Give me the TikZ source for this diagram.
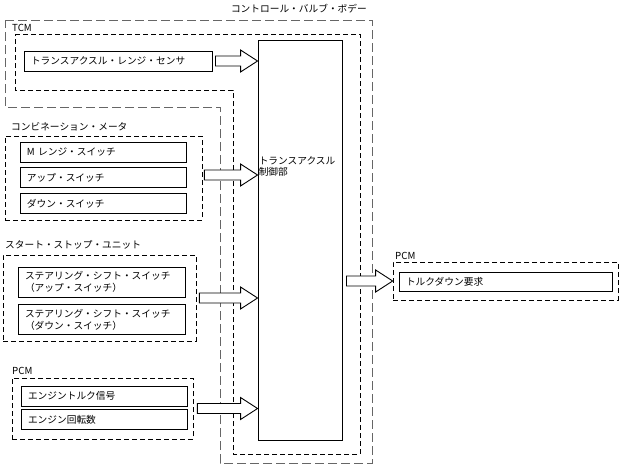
\documentclass[tikz,border=0pt]{standalone}
\usepackage{fontspec}
\setmainfont{Noto Sans CJK JP}
\usetikzlibrary{calc}
\usetikzlibrary{positioning}

\tikzset{
  sigbox/.style = {draw, line width=0.9pt, minimum height=20pt, inner xsep=7pt, inner ysep=1pt, align=left},
  grpbox/.style = {draw, dash pattern=on 5pt off 3pt, line width=0.7pt, inner sep=0pt},
  grplabel/.style = {anchor=west, inner sep=1pt},
  valvebody/.style = {draw=black!60, dash pattern=on 9pt off 4pt, line width=0.9pt},
  tcmline/.style = {draw, dash pattern=on 5pt off 3pt, line width=0.7pt},
  blockarr/.style = {draw, fill=white, line width=0.9pt, line join=miter},
}

\newcommand{\blockarrow}[2]{%
  \draw[blockarr] let \p1=(#1), \p2=(#2) in
    (\x1,\y1+5pt) -- (\x2-17pt,\y1+5pt) -- (\x2-17pt,\y1+11pt) -- (\x2,\y1)
    -- (\x2-17pt,\y1-11pt) -- (\x2-17pt,\y1-5pt) -- (\x1,\y1-5pt) -- cycle;}

\begin{document}
\begin{tikzpicture}[x=1pt, y=-1pt, font=\fontsize{9.7pt}{11.5pt}\selectfont]
        \useasboundingbox (0,0) rectangle (622,466);

        % housings
        \draw[valvebody] (5,20) -- (372,20) -- (372,463) -- (220,463) -- (220,107) -- (5,107) -- cycle;
        \draw[tcmline] (15,34) -- (360,34) -- (360,454) -- (233,454) -- (233,90) -- (15,90) -- cycle;
        \node[grplabel, anchor=east] (vbtext) at (368,9) {コントロール・バルブ・ボデー};
        \node[grplabel] (tcmtext) at (11,28) {TCM};

        % control unit
        \node[draw, line width=0.9pt, minimum width=84pt, minimum height=400pt] (cu) at (300,240) {};
        \node[grplabel, align=left] (cutext) at ($(cu.north west)+(0,127)$) {トランスアクスル\\制御部};
        \node[sigbox, text width=174pt] (sensor) at (118,61) {トランスアクスル・レンジ・センサ};

        % combination meter
        \node[grpbox, minimum width=197pt, minimum height=84pt] (meter) at (103.5,178) {};
        \node[grplabel] (metertext) at (10,127) {コンビネーション・メータ};
        \node[sigbox, text width=152pt] (mrange) at (103,152) {M レンジ・スイッチ};
        \node[sigbox, text width=152pt, below=5pt of mrange] (upsw) {アップ・スイッチ};
        \node[sigbox, text width=152pt, below=5pt of upsw] (downsw) {ダウン・スイッチ};

        % start-stop unit
        \node[grpbox, minimum width=193pt, minimum height=86pt] (ssu) at (99.5,298) {};
        \node[grplabel] (ssutext) at (4,245) {スタート・ストップ・ユニット};
        \node[sigbox, text width=153pt, minimum height=30pt] (upshift) at (101.5,282) {ステアリング・シフト・スイッチ\\（アップ・スイッチ）};
        \node[sigbox, text width=153pt, minimum height=30pt, below=7pt of upshift] (downshift) {ステアリング・シフト・スイッチ\\（ダウン・スイッチ）};

        % engine side PCM
        \node[grpbox, minimum width=181pt, minimum height=61pt] (pcmin) at (102.5,408.5) {};
        \node[grplabel] (pcmintext) at (11,371) {PCM};
        \node[sigbox, text width=152pt] (torque) at (104,396) {エンジントルク信号};
        \node[sigbox, text width=152pt, below=3pt of torque] (speed) {エンジン回転数};

        % output PCM
        \node[grpbox, minimum width=225pt, minimum height=38pt] (pcmout) at (505.5,281) {};
        \node[grplabel] (pcmouttext) at (394,256) {PCM};
        \node[sigbox, text width=199pt, minimum height=19pt] (tqdown) at (505.5,281.5) {トルクダウン要求};

        % signal flow
        \blockarrow{$(sensor.east)+(3pt,0pt)$}{cu.west}
        \blockarrow{$(meter.east)+(2pt,3pt)$}{cu.west}
        \blockarrow{$(ssu.east)+(3pt,0pt)$}{cu.west}
        \blockarrow{$(pcmin.east)+(4pt,0pt)$}{cu.west}
        \blockarrow{$(cu.east |- pcmout.west)+(4pt,0pt)$}{pcmout.west}
    \end{tikzpicture}
\end{document}
